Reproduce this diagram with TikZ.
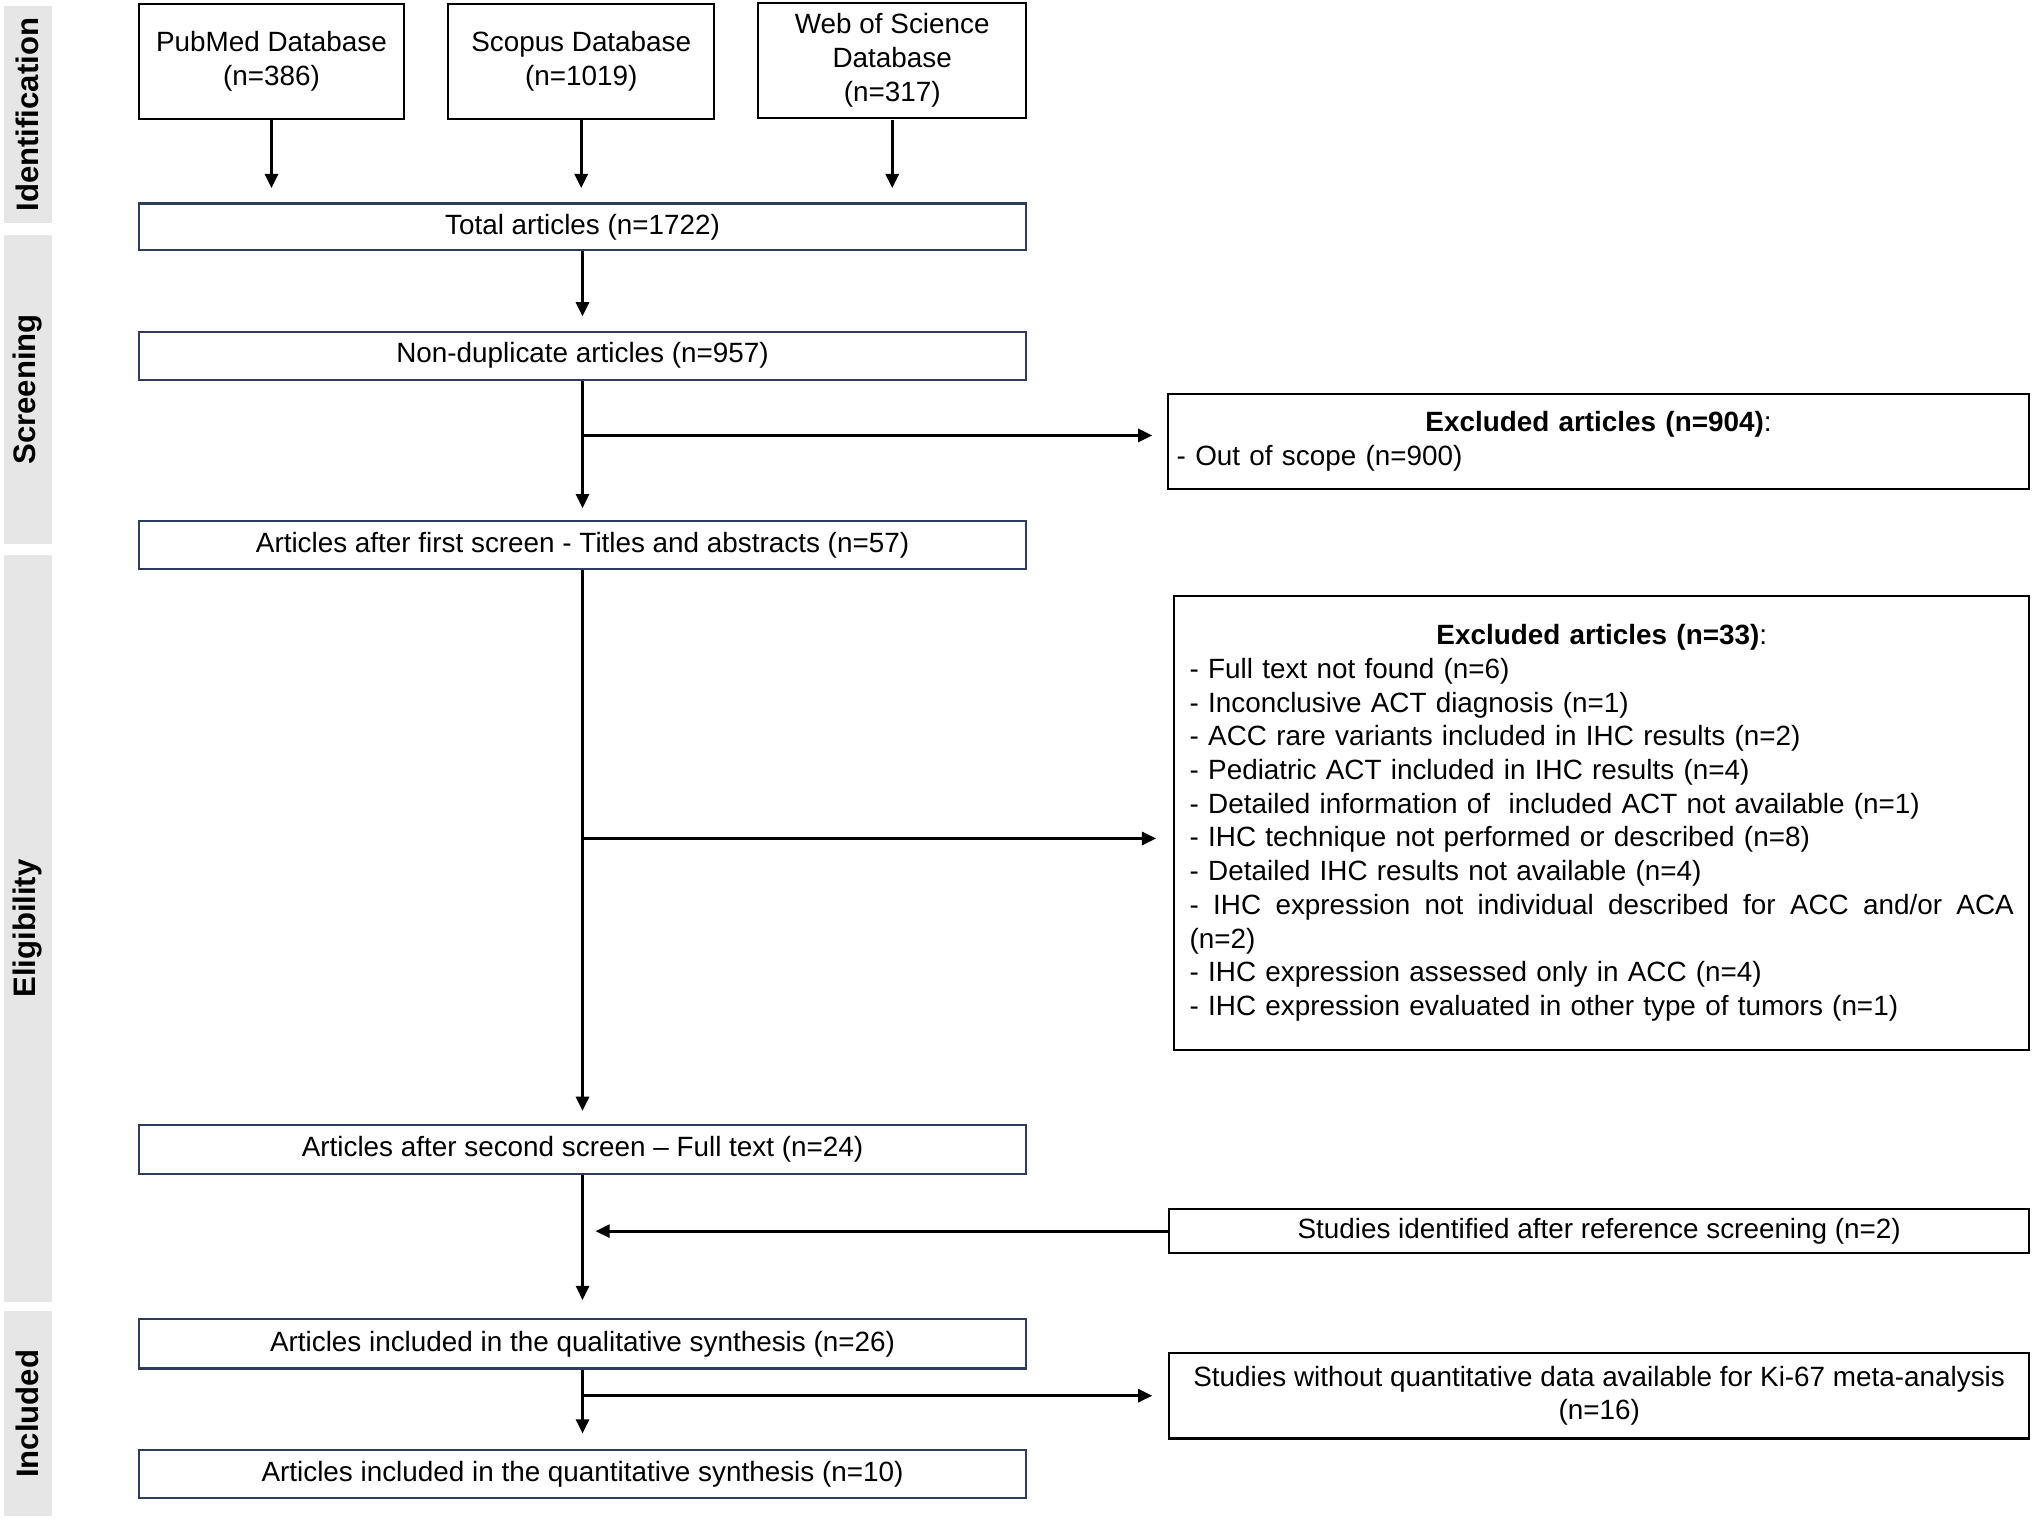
\documentclass[tikz,border=0pt]{standalone}
\usepackage{fontspec}
\setmainfont{Liberation Sans}
\usetikzlibrary{arrows.meta}
\definecolor{navy}{RGB}{45,60,95}
\definecolor{barfill}{RGB}{231,230,230}
\begin{document}
\begin{tikzpicture}[x=1pt,y=-1pt,
  every node/.style={font=\fontsize{21.5}{26}\selectfont, inner sep=0pt},
  mainbox/.style={draw=navy, line width=1.6pt, fill=white, minimum width=685pt, align=center},
  sidebox/.style={draw=black, line width=1.6pt, fill=white, align=center},
  bar/.style={fill=barfill, draw=none, minimum width=37pt},
  barlabel/.style={rotate=90, font=\bfseries\fontsize{24}{24}\selectfont},
  arr/.style={draw=black, line width=2.4pt, -{Triangle[length=11pt,width=10pt]}},
  ln/.style={draw=black, line width=2.4pt}
]
\useasboundingbox (0,0) rectangle (1568,1173);
% side bars
\node[bar, minimum height=167pt] (b1) at (21.5,88.5) {};
\node[bar, minimum height=239pt] (b2) at (21.5,300.5) {};
\node[bar, minimum height=577pt] (b3) at (21.5,716.5) {};
\node[bar, minimum height=158pt] (b4) at (21.5,1091) {};
\node[barlabel] (l1) at (b1) {Identification};
\node[barlabel] (l2) at (b2) {Screening};
\node[barlabel] (l3) at (b3) {Eligibility};
\node[barlabel] (l4) at (b4) {Included};
% databases
\node[sidebox, minimum width=205pt, minimum height=89pt] (pub) at (209.5,47.5) {PubMed Database\\(n=386)};
\node[sidebox, minimum width=205pt, minimum height=89pt] (sco) at (448.5,47.5) {Scopus Database\\(n=1019)};
\node[sidebox, minimum width=207pt, minimum height=89pt] (wos) at (688.5,46.5) {Web of Science\\Database\\(n=317)};
% main column
\node[mainbox, minimum height=36pt] (tot) at (449.5,175) {Total articles (n=1722)};
\node[mainbox, minimum height=37pt] (nondup) at (449.5,274.5) {Non-duplicate articles (n=957)};
\node[mainbox, minimum height=37pt] (first) at (449.5,420.5) {Articles after first screen - Titles and abstracts (n=57)};
\node[mainbox, minimum height=38pt] (second) at (449.5,887) {Articles after second screen -- Full text (n=24)};
\node[mainbox, minimum height=38pt] (qual) at (449.5,1037) {Articles included in the qualitative synthesis (n=26)};
\node[mainbox, minimum height=37pt] (quant) at (449.5,1137.5) {Articles included in the quantitative synthesis (n=10)};
% side boxes
\node[sidebox, minimum width=665pt, minimum height=73pt, text width=651pt, align=left] (ex1) at (1233.5,340.5)
  {\makebox[651pt]{\textbf{Excluded articles (n=904)}:}\\- Out of scope (n=900)};
\node[sidebox, minimum width=660pt, minimum height=350pt, text width=636pt, align=left] (ex2) at (1236,635)
  {\makebox[636pt]{\textbf{Excluded articles (n=33)}:}\\
   - Full text not found (n=6)\\
   - Inconclusive ACT diagnosis (n=1)\\
   - ACC rare variants included in IHC results (n=2)\\
   - Pediatric ACT included in IHC results (n=4)\\
   - Detailed information of\ \ included ACT not available (n=1)\\
   - IHC technique not performed or described (n=8)\\
   - Detailed IHC results not available (n=4)\\
   \makebox[636pt]{-\hfill IHC\hfill expression\hfill not\hfill individual\hfill described\hfill for\hfill ACC\hfill and/or\hfill ACA}\\
   (n=2)\\
   - IHC expression assessed only in ACC (n=4)\\
   - IHC expression evaluated in other type of tumors (n=1)};
\node[sidebox, minimum width=664pt, minimum height=34pt] (ident) at (1234,950) {Studies identified after reference screening (n=2)};
\node[sidebox, minimum width=664pt, minimum height=66pt] (without) at (1234,1077) {Studies without quantitative data available for Ki-67 meta-analysis\\(n=16)};
% junction points
\coordinate (j1) at (449.5,336);
\coordinate (j2) at (449.5,647);
\coordinate (j3) at (449.5,1077);
% connectors
\draw[arr, shorten >=11pt] (pub.south) -- (pub.south |- tot.north);
\draw[arr, shorten >=11pt] (sco.south) -- (sco.south |- tot.north);
\draw[arr, shorten >=11pt] (wos.south -| wos) ++(0,1) -- (wos |- tot.north);
\draw[arr, shorten >=11pt] (tot.south) -- (nondup.north);
\draw[arr, shorten >=9pt] (nondup.south) -- (first.north);
\draw[arr, shorten >=11pt] (j1) -- (j1 -| ex1.west);
\draw[arr, shorten >=10pt] (first.south) -- (second.north);
\draw[arr, shorten >=13pt] (j2) -- (j2 -| ex2.west);
\draw[arr, shorten >=14pt] (second.south) -- (qual.north);
\draw[arr, shorten >=10pt] (ident.west) -- (ident.west -| second.south);
\draw[arr, shorten >=12pt] (qual.south) -- (quant.north);
\draw[arr, shorten >=12pt] (j3) -- (without.west);
\end{tikzpicture}
\end{document}
